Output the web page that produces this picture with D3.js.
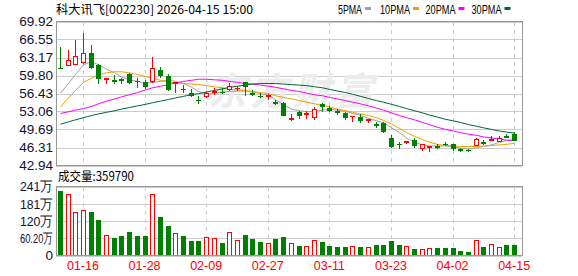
<!DOCTYPE html>
<html><head><meta charset="utf-8">
<script src="https://cdn.jsdelivr.net/npm/d3@7"></script>
<style>body{margin:0;background:#fff}svg{display:block}</style>
</head><body><svg id="c" width="578" height="276"></svg>
<script>
const title = "科大讯飞[002230] 2026-04-15 15:00";
const volTitle = "成交量:359790";
const maNames = ["5PMA","10PMA","20PMA","30PMA"];
const maColors = ["#a0a0a0","#f0a000","#ff00ff","#006633"];
const dates = ["01-13","01-14","01-15","01-16","01-19","01-20","01-21","01-22","01-23","01-26","01-27","01-28","01-29","01-30","02-02","02-03","02-04","02-05","02-06","02-09","02-10","02-11","02-12","02-13","02-24","02-25","02-26","02-27","03-02","03-03","03-04","03-05","03-06","03-09","03-10","03-11","03-12","03-13","03-16","03-17","03-18","03-19","03-20","03-23","03-24","03-25","03-26","03-27","03-30","03-31","04-01","04-02","04-03","04-07","04-08","04-09","04-10","04-13","04-14","04-15"];
const open  = [61.3,61.6,61.9,62.2,64.1,61.7,59.1,58.9,59.1,60.0,58.8,58.6,58.6,60.8,59.8,58.3,57.35,56.45,55.25,55.85,56.6,56.8,57.2,57.2,58.55,56.6,56.05,55.85,54.75,54.6,51.6,52.96,52.5,51.9,54.45,53.65,53.15,52.7,51.97,52.1,51.4,50.7,50.85,48.0,47.0,47.25,47.7,46.05,46.3,46.5,47.05,46.9,46.05,45.9,46.65,47.3,47.85,47.5,48.4,48.9];
const close = [61.0,62.7,63.4,63.9,61.3,59.1,59.3,58.7,58.7,58.45,58.5,57.6,61.15,59.8,57.1,58.5,57.2,55.95,55.15,56.45,56.95,56.45,57.7,57.5,57.6,56.2,56.0,56.1,54.65,52.3,51.8,52.3,52.7,53.5,53.85,53.2,53.05,51.9,52.27,51.35,51.65,50.6,49.16,46.46,46.95,47.5,46.6,46.8,46.5,46.45,47.0,46.0,45.7,45.85,47.9,47.25,47.9,48.0,48.3,47.6];
const high  = [65.2,64.6,66.4,67.8,65.5,61.9,59.3,59.9,59.4,60.2,59.3,59.0,63.3,61.4,60.1,58.6,58.0,57.3,56.0,56.9,57.5,57.4,58.45,57.9,58.6,57.0,56.6,56.3,55.3,54.8,52.5,53.1,53.1,53.9,54.6,54.0,53.6,52.9,52.3,52.5,51.7,51.15,51.1,48.65,47.4,47.55,48.0,47.0,46.55,46.9,47.3,47.05,46.15,46.1,48.0,47.7,48.4,48.4,48.9,49.3];
const low   = [61.0,61.5,61.7,61.9,61.1,58.2,58.2,58.3,58.3,58.2,57.4,57.35,58.45,59.3,56.9,56.6,56.6,55.8,54.5,55.6,56.2,56.3,56.95,56.9,55.96,55.9,55.6,55.2,54.2,52.3,51.2,51.7,51.6,51.5,52.9,52.9,52.4,51.5,51.15,50.9,50.85,50.0,49.1,46.27,45.97,46.9,46.3,45.6,45.4,45.95,46.6,45.7,45.5,45.55,46.6,46.7,47.8,47.4,48.2,47.5];
const volume = [225.7,211.6,150.6,158.7,150.6,123.5,70.5,62.4,69.5,83.6,67,67,211.6,134,102.3,76.5,67,49.4,49.4,63.5,58.9,42.3,80,52.9,73,56.4,45.9,41.2,56.4,63.5,42.3,34.1,31.7,51.7,48.2,31.7,28.2,28.2,31.7,28.2,28.2,35.3,35.3,49.4,37.7,31.7,21.2,21.2,24.7,24.7,24.7,24.7,16.5,13,51.7,28.2,37.7,28.2,35.3,36.0];
const ma5  = [56.5,58.3,60.0,61.8,62.4,61.8,61.0,60.3,59.5,59.0,58.7,58.4,58.5,58.7,58.9,58.7,58.3,57.6,56.8,56.3,56.5,56.7,56.8,56.9,56.9,56.7,56.4,56.1,55.3,54.3,53.5,53.2,53.0,53.1,53.3,53.5,53.3,53.1,52.7,52.3,51.8,51.3,51.0,50.0,49.1,48.1,47.3,46.8,46.6,46.6,46.6,46.4,46.2,46.0,46.3,46.5,46.8,47.3,47.6,47.8];
const ma10 = [53.9,55.6,57.0,58.5,59.3,59.9,60.3,60.5,60.5,60.3,60.0,59.6,59.3,58.9,58.6,58.4,58.3,58.2,58.1,57.9,57.7,57.5,57.2,57.1,57.0,56.8,56.6,56.4,56.0,55.7,55.4,55.1,54.8,54.5,54.2,53.9,53.5,53.2,52.9,52.6,52.3,51.9,51.4,50.7,49.9,49.1,48.4,47.8,47.3,46.9,46.7,46.6,46.5,46.5,46.5,46.6,46.7,46.8,46.9,47.1];
const ma20 = [52.7,53.0,53.3,53.6,54.0,54.5,55.0,55.4,55.8,56.2,56.6,57.1,57.5,57.8,58.1,58.4,58.7,58.9,59.1,59.1,59.0,58.9,58.7,58.5,58.3,58.2,58.0,57.8,57.6,57.3,57.0,56.8,56.5,56.2,56.0,55.7,55.4,55.1,54.8,54.5,54.1,53.7,53.3,52.8,52.3,51.9,51.5,51.0,50.6,50.1,49.7,49.4,49.1,48.8,48.6,48.3,48.1,47.9,47.7,47.6];
const ma30 = [50.7,51.1,51.5,51.9,52.3,52.6,52.9,53.2,53.5,53.8,54.1,54.4,54.7,55.0,55.3,55.6,55.9,56.2,56.4,56.7,57.0,57.3,57.6,57.8,58.0,58.2,58.3,58.3,58.3,58.2,58.1,58.0,57.9,57.7,57.5,57.2,56.9,56.6,56.3,55.9,55.5,55.1,54.8,54.4,54.0,53.6,53.2,52.8,52.4,52.0,51.6,51.3,51.0,50.6,50.3,50.0,49.7,49.4,49.2,49.0];
const priceTicks = [69.92,66.55,63.17,59.80,56.43,53.06,49.69,46.31,42.94];
const volTicks = [240.8,180.6,120.4,60.2,0];
const volTickLabels = ["241万","181万","120万","60.20万","0"];
const dateTicks = ["01-16","01-28","02-09","02-27","03-11","03-23","04-02","04-15"];

const RED = "#ff0000", GREEN = "#008000";
const svg = d3.select("#c");
const L = 56, R = 522, T = 21.5, B = 165.5, VT = 186.5, VB = 255.5;
const n = dates.length;
const x = d3.scaleBand().domain(d3.range(n)).range([L, L + n * 7.7]);
const cx = i => Math.round(x(i) + x.bandwidth() / 2) + 0.5;
const y = d3.scaleLinear().domain([42.94, 69.92]).range([B, T]);
const yv = d3.scaleLinear().domain([0, 240.8]).range([VB, VT]);
const font = "'Liberation Sans', Arial, sans-serif";
const cjk = "'Noto Sans CJK SC', sans-serif";

// grid
const g = svg.append("g").attr("shape-rendering", "crispEdges");
g.selectAll(".hp").data(priceTicks).join("line")
  .attr("x1", L).attr("x2", R).attr("y1", d => Math.round(y(d)) + 0.5).attr("y2", d => Math.round(y(d)) + 0.5)
  .attr("stroke", "#cccccc");
g.selectAll(".hv").data(volTicks).join("line")
  .attr("x1", L).attr("x2", R).attr("y1", d => Math.round(yv(d)) + 0.5).attr("y2", d => Math.round(yv(d)) + 0.5)
  .attr("stroke", "#cccccc");
dateTicks.forEach(d => {
  const xi = cx(dates.indexOf(d));
  [[T, B], [VT, VB]].forEach(([a, b]) => g.append("line").attr("x1", xi).attr("x2", xi).attr("y1", a).attr("y2", b)
    .attr("stroke", "#cccccc").attr("stroke-dasharray", "4,4"));
});

// watermark
svg.append("text").attr("x", 208).attr("y", 105).attr("font-family", cjk).attr("font-size", 38)
  .attr("font-weight", "bold").attr("font-style", "italic").attr("fill", "#ececec").attr("textLength", 165)
  .text("东方财富");

// MA lines
[ma5, ma10, ma20, ma30].forEach((arr, k) => {
  svg.append("path").datum(arr).attr("fill", "none").attr("stroke", maColors[k]).attr("stroke-width", 1)
    .attr("d", d3.line().x((d, i) => cx(i)).y(d => y(d)));
});

// candles
const cg = svg.append("g").attr("shape-rendering", "crispEdges");
d3.range(n).forEach(i => {
  const up = close[i] >= open[i];
  const col = up ? RED : GREEN;
  const xc = cx(i);
  const top = y(Math.max(open[i], close[i])), bot = y(Math.min(open[i], close[i]));
  const bh = Math.max(bot - top, 1);
  cg.append("line").attr("x1", xc).attr("x2", xc).attr("y1", y(high[i])).attr("y2", top).attr("stroke", col);
  cg.append("line").attr("x1", xc).attr("x2", xc).attr("y1", top + bh).attr("y2", y(low[i])).attr("stroke", col);
  if (up && bh > 2) {
    cg.append("rect").attr("x", xc - 2).attr("y", top).attr("width", 4).attr("height", bh)
      .attr("fill", "#fff").attr("stroke", col);
  } else {
    cg.append("rect").attr("x", xc - 2.5).attr("y", top).attr("width", 5).attr("height", Math.max(bh, 1.5))
      .attr("fill", col);
  }
});

// volume bars
const vg = svg.append("g").attr("shape-rendering", "crispEdges");
d3.range(n).forEach(i => {
  const up = close[i] >= open[i];
  const xc = cx(i);
  const t = yv(volume[i]);
  if (up) vg.append("rect").attr("x", xc - 2).attr("y", t).attr("width", 4).attr("height", VB - t)
    .attr("fill", "#fff").attr("stroke", RED);
  else vg.append("rect").attr("x", xc - 2.5).attr("y", t).attr("width", 5).attr("height", VB - t).attr("fill", GREEN);
});

// frames
const fg = svg.append("g").attr("shape-rendering", "crispEdges");
fg.append("rect").attr("x", L).attr("y", T).attr("width", R - L).attr("height", B - T).attr("fill", "none").attr("stroke", "#999");
fg.append("rect").attr("x", L).attr("y", VT).attr("width", R - L).attr("height", VB - VT).attr("fill", "none").attr("stroke", "#999");

// axes
const ay = svg.append("g").attr("transform", `translate(${L - 3},0)`)
  .call(d3.axisLeft(y).tickValues(priceTicks).tickFormat(d3.format(".2f")).tickSize(0).tickPadding(0));
ay.select(".domain").remove();
ay.selectAll("text").attr("font-family", font).attr("font-size", 13.5).attr("fill", "#111133");

const av = svg.append("g").attr("transform", `translate(${L - 3},0)`)
  .call(d3.axisLeft(yv).tickValues(volTicks).tickFormat((d, i) => volTickLabels[i]).tickSize(0).tickPadding(0));
av.select(".domain").remove();
av.selectAll("text").attr("font-family", font).attr("font-size", 13.5).attr("fill", "#111133")
  .each(function (d, i) { if (volTickLabels[i] !== "0") d3.select(this).attr("textLength", 33).attr("lengthAdjust", "spacingAndGlyphs"); });

const ax = svg.append("g").attr("transform", `translate(0,${VB + 3})`)
  .call(d3.axisBottom(x).tickValues(dateTicks.map(d => dates.indexOf(d))).tickFormat(i => dates[i]).tickSize(0).tickPadding(0));
ax.select(".domain").remove();
ax.selectAll("text").attr("font-family", font).attr("font-size", 12.5).attr("fill", "#ff0000").attr("dy", "0.9em");

// titles
svg.append("text").attr("x", 56).attr("y", 14).attr("font-family", cjk).attr("font-size", 12).attr("fill", "#000")
  .attr("textLength", 197).attr("lengthAdjust", "spacingAndGlyphs").text(title);
svg.append("text").attr("x", 58).attr("y", 181).attr("font-family", cjk).attr("font-size", 12.5).attr("fill", "#000")
  .attr("textLength", 76).attr("lengthAdjust", "spacingAndGlyphs").text(volTitle);

// legend
const legX = [338, 380, 425.5, 471.5];
maNames.forEach((nm, k) => {
  svg.append("text").attr("x", legX[k]).attr("y", 13.5).attr("font-family", font).attr("font-size", 12.5).attr("fill", "#000")
    .attr("textLength", nm.length * 6).attr("lengthAdjust", "spacingAndGlyphs").text(nm);
  svg.append("rect").attr("x", legX[k] + nm.length * 6 + 3).attr("y", 7).attr("width", 6).attr("height", 3).attr("fill", maColors[k]);
});
</script></body></html>
